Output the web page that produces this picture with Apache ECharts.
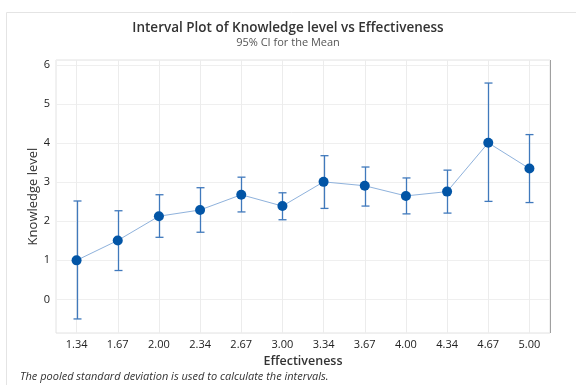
<!DOCTYPE html>
<html>
<head>
<meta charset="utf-8">
<script src="https://cdn.jsdelivr.net/npm/echarts@6/dist/echarts.min.js"></script>
<style>
  html, body { margin: 0; padding: 0; background: #fff; }
  #chart { width: 576px; height: 385px; }
</style>
</head>
<body>
<div id="chart"></div>
<script>
// Effectiveness groups (x categories)
const categories = ['1.34', '1.67', '2.00', '2.34', '2.67', '3.00', '3.34', '3.67', '4.00', '4.34', '4.67', '5.00'];
// Group means of Knowledge level
const means = [1.00, 1.51, 2.13, 2.29, 2.68, 2.39, 3.01, 2.91, 2.65, 2.76, 4.01, 3.35];
// 95% confidence interval bounds
const ciLower = [-0.50, 0.74, 1.59, 1.72, 2.24, 2.04, 2.33, 2.39, 2.19, 2.21, 2.51, 2.48];
const ciUpper = [2.52, 2.27, 2.68, 2.86, 3.13, 2.73, 3.68, 3.39, 3.11, 3.31, 5.54, 4.22];

const FONT = '"Open Sans", "Noto Sans", sans-serif';
const BAR_COLOR = '#4079bc';
const POINT_COLOR = '#0255a6';

const chart = echarts.init(document.getElementById('chart'), null, { renderer: 'canvas' });

const intervalData = categories.map((c, i) => [i, ciLower[i], ciUpper[i]]);

chart.setOption({
  animation: false,
  backgroundColor: '#fff',
  textStyle: { fontFamily: FONT },
  graphic: [
    // outer frame
    { type: 'rect', shape: { x: 6.5, y: 12.5, width: 600, height: 400 },
      style: { fill: 'none', stroke: '#e4e4e4', lineWidth: 1 }, silent: true },
    { type: 'text', left: 'center', top: 21,
      style: { text: 'Interval Plot of Knowledge level vs Effectiveness', font: '600 13.5px ' + FONT, fill: '#333' } },
    { type: 'text', left: 'center', top: 37,
      style: { text: '95% CI for the Mean', font: '11px ' + FONT, fill: '#555' } },
    { type: 'text', left: 20, top: 371,
      style: { text: 'The pooled standard deviation is used to calculate the intervals.', font: 'italic 11px ' + FONT, fill: '#333' } },
    // right edge of the plot frame
    { type: 'line', shape: { x1: 550.5, y1: 60, x2: 550.5, y2: 333 },
      style: { stroke: '#a0a0a0', lineWidth: 1 }, silent: true }
  ],
  grid: { left: 56, right: 26, top: 60, bottom: 52, show: true, borderColor: '#e2e2e2', borderWidth: 1 },
  xAxis: {
    type: 'category',
    data: categories,
    name: 'Effectiveness',
    nameLocation: 'middle',
    nameGap: 20,
    nameTextStyle: { fontSize: 12.5, fontWeight: 600, color: '#333', fontFamily: FONT },
    axisLine: { show: false },
    axisTick: { show: false, alignWithLabel: true },
    axisLabel: { fontSize: 11, color: '#222', margin: 6, fontFamily: FONT },
    splitLine: { show: true, alignWithLabel: true, lineStyle: { color: '#ececec', width: 1 } }
  },
  yAxis: {
    type: 'value',
    min: -0.86,
    max: 6.13,
    splitNumber: 7,
    name: 'Knowledge level',
    nameLocation: 'middle',
    nameGap: 16,
    nameMoveOverlap: false,
    nameRotate: 90,
    nameTextStyle: { fontSize: 13, color: '#333', fontFamily: FONT },
    axisLine: { show: false },
    axisTick: { show: false },
    axisLabel: { fontSize: 11, color: '#222', margin: 6, showMinLabel: false, showMaxLabel: false, fontFamily: FONT },
    splitLine: { show: true, lineStyle: { color: '#efefef', width: 1 } }
  },
  series: [
    {
      type: 'custom',
      data: intervalData,
      encode: { x: 0, y: [1, 2] },
      z: 2,
      renderItem: function (params, api) {
        const x = api.value(0);
        const lo = api.coord([x, api.value(1)]);
        const hi = api.coord([x, api.value(2)]);
        const cap = 4;
        const px = Math.round(lo[0]) + 0.5;
        const style = { stroke: BAR_COLOR, lineWidth: 1.3 };
        return {
          type: 'group',
          children: [
            { type: 'line', shape: { x1: px, y1: hi[1], x2: px, y2: lo[1] }, style: style },
            { type: 'line', shape: { x1: px - cap, y1: hi[1], x2: px + cap, y2: hi[1] }, style: style },
            { type: 'line', shape: { x1: px - cap, y1: lo[1], x2: px + cap, y2: lo[1] }, style: style }
          ]
        };
      }
    },
    {
      type: 'line',
      data: means,
      z: 3,
      symbol: 'circle',
      symbolSize: 10,
      lineStyle: { color: '#8fb2dc', width: 1 },
      itemStyle: { color: POINT_COLOR, borderWidth: 0 }
    }
  ]
});
</script>
</body>
</html>
